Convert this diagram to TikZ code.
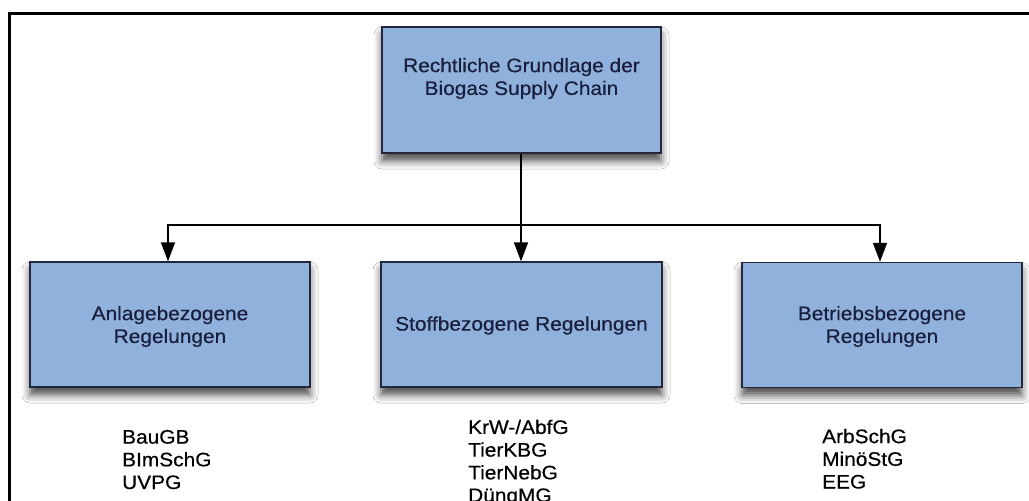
\documentclass[tikz,border=0pt]{standalone}
\usepackage{fontspec}
\setmainfont{Liberation Sans}[FakeStretch=1.07,FakeBold=0.45]
\usetikzlibrary{arrows.meta,shadows.blur}
\definecolor{boxfill}{HTML}{8FB1DC}
\definecolor{boxline}{HTML}{23273A}
\definecolor{boxtext}{HTML}{1A1F3D}
\tikzset{
  rulebox/.style={draw=boxline, line width=1.4pt, fill=boxfill,
    minimum width=280pt, minimum height=125pt, inner sep=0pt,
    blur shadow={shadow xshift=0pt, shadow yshift=-8pt,
      shadow blur radius=8pt, shadow opacity=70}},
  boxlabel/.style={text=boxtext, align=center, inner sep=0pt,
    font=\fontsize{19.5}{22.8}\selectfont},
  lawlist/.style={anchor=base west, align=left, inner sep=0pt,
    font=\fontsize{19.5}{22.7}\selectfont},
  link/.style={line width=1.6pt, draw=black},
  linkarrow/.style={link, -{Triangle[length=19pt,width=14pt]}}
}
\begin{document}
\begin{tikzpicture}[x=1pt,y=-1pt]
  \useasboundingbox (0,0) rectangle (1029,501);
  \clip (0,0) rectangle (1029,501);
  \fill[white] (0,0) rectangle (1029,501);
  % outer frame, running past the right and lower edges
  \draw[line width=3pt] (9.5,13.5) rectangle (1060,540);

  % boxes
  \node[rulebox, minimum width=279pt, minimum height=126pt] (root) at (521.5,90) {};
  \node[rulebox] (plant) at (170,324.5) {};
  \node[rulebox, minimum width=281pt] (matter) at (521.5,324.5) {};
  \node[rulebox] (ops) at (882,325) {};

  % box titles
  \node[boxlabel] (rootlabel) at (521.5,78.5) {Rechtliche Grundlage der\\Biogas Supply Chain};
  \node[boxlabel] (plantlabel) at (170,326.5) {Anlagebezogene\\Regelungen};
  \node[boxlabel] (matterlabel) at (521.5,325.5) {Stoffbezogene Regelungen};
  \node[boxlabel] (opslabel) at (882,326.5) {Betriebsbezogene\\Regelungen};

  % connectors
  \coordinate (hub) at (521,225);
  \draw[link] (root.south -| hub) -- (hub);
  \draw[linkarrow] (hub) -| ([xshift=-2pt]plant.north);
  \draw[linkarrow] (hub) -- (matter.north -| hub);
  \draw[linkarrow] (hub) -| ([xshift=-2pt]ops.north);

  % statutes under each box (anchored on the last line's baseline)
  \node[lawlist] (plantlaws) at (122,489) {BauGB\\BImSchG\\UVPG};
  \node[lawlist] (matterlaws) at (468,502) {KrW-/AbfG\\TierKBG\\TierNebG\\DüngMG};
  \node[lawlist] (opslaws) at (822,488.5) {ArbSchG\\MinöStG\\EEG};
\end{tikzpicture}
\end{document}
